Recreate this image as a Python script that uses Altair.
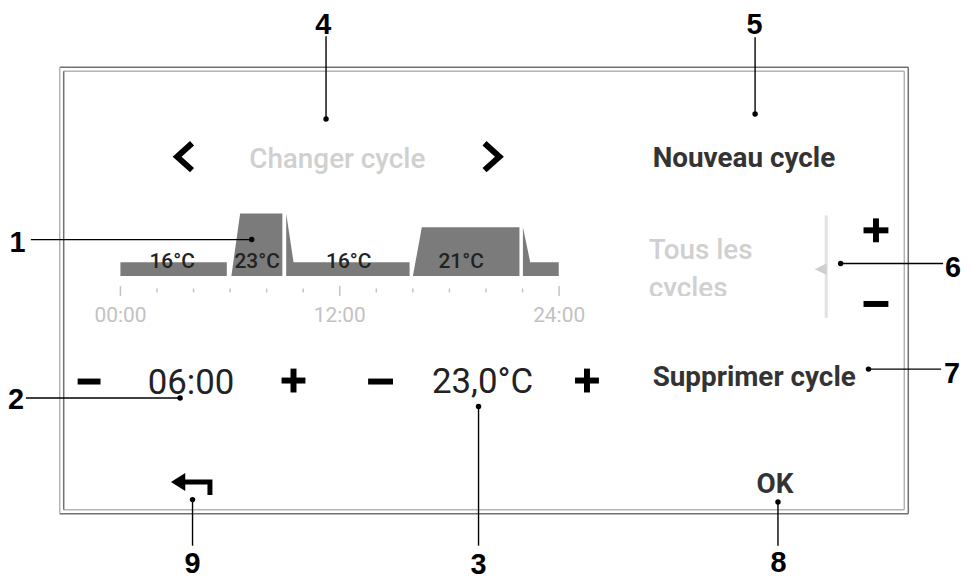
import altair as alt
import pandas as pd

# ---------------- data ----------------
# Temperature schedule: polygon vertices of each period (hour, °C)
seg_id = [1, 1, 2, 2, 2, 3, 3, 3, 4, 4, 4, 5, 5, 5]
seg_hour = [0, 5.82, 6.07, 6.55, 8.86, 9.07, 9.47, 15.82, 16.0, 16.49, 21.83, 22.02, 22.42, 23.98]
seg_temp = [16, 16, 14, 23, 23, 23, 16, 16, 14, 21, 21, 21, 16, 16]
base_temp = 14

block_labels = ["16°C", "23°C", "16°C", "21°C"]
block_hours = [2.83, 7.48, 12.49, 18.64]

tick_hours = list(range(0, 25, 2))
major_hours = [0, 12, 24]
hour_labels = ["00:00", "12:00", "24:00"]

# Callout numbers
callout_text = ["1", "2", "3", "4", "5", "6", "7", "8", "9"]
callout_x = [17.5, 16, 481, 325, 758.5, 958, 957, 782.5, 193.5]
callout_y = [252, 410, 575, 33, 33, 277, 383, 573, 574]
# Callout leader lines and end dots
lead_x1 = [31, 26, 481, 327.7, 759, 845, 873, 782, 193.5]
lead_x2 = [253, 181, 481, 327.7, 759, 948, 946, 782, 193.5]
lead_y1 = [239.3, 398.5, 407, 35, 36, 263.3, 369.5, 503, 500.7]
lead_y2 = [239.3, 398.5, 547, 118, 113, 263.3, 369.5, 547, 547]
dot_x = [253, 181, 481, 327.7, 759, 845, 873, 782, 193.5]
dot_y = [239.3, 398.5, 407, 118, 113, 263.3, 369.5, 503, 500.7]

# Screen texts
bold_text = ["Nouveau cycle", "Supprimer cycle"]
bold_x = [656, 656]
bold_y = [166, 386]
ok_text = ["OK"]
ok_x = [779]
ok_y = [494]
grey_text = ["Changer cycle", "Tous les", "cycles"]
grey_x = [339, 652, 652]
grey_y = [167, 259, 297]
grey_align = ["center", "left", "left"]
value_text = ["06:00", "23,0°C"]
value_x = [192, 485]
value_y = [395, 394]

# Frame (double border)
frame_x1 = [60, 913, 60, 60, 64, 909, 64, 64]
frame_x2 = [913, 913, 913, 60, 909, 909, 909, 64]
frame_y1 = [66, 66, 515, 66, 70, 70, 511, 70]
frame_y2 = [66, 515, 515, 515, 70, 511, 511, 511]
frame_col = ["#707070", "#707070", "#707070", "#b4b4b4", "#b4b4b4", "#b4b4b4", "#b4b4b4", "#707070"]

# Plus / minus buttons (thick strokes)
pm_x1 = [78, 283, 295, 370, 578, 590, 868, 880.5, 868]
pm_x2 = [101, 307, 295, 395, 602, 590, 893, 880.5, 893]
pm_y1 = [382, 381, 369, 382, 381, 369, 230, 218, 304]
pm_y2 = [382, 381, 393, 382, 381, 393, 230, 242, 304]

# Chevrons < >
chev_id = [1, 1, 1, 2, 2, 2]
chev_seq = [0, 1, 2, 0, 1, 2]
chev_x = [193, 178, 193, 487, 502, 487]
chev_y = [142.5, 156, 169.5, 142.5, 156, 169.5]

# Back arrow
arrow_seq = [0, 1, 2]
arrow_x = [183, 211, 211]
arrow_y = [483, 483, 496]

# ---------------- scales ----------------
W, H = 960, 571
X0, Y0 = 8, 8
px_x = alt.Scale(domain=[X0, X0 + W], nice=False, zero=False)
px_y = alt.Scale(domain=[Y0, Y0 + H], reverse=True, nice=False, zero=False)

H0_PX, PX_PER_H = 121.0, 18.375       # 00:00 position, pixels per hour
T0_PX, PX_PER_DEG = 276.0, 7.0        # baseline position, pixels per °C
hour_scale = alt.Scale(domain=[(X0 - H0_PX) / PX_PER_H, (X0 + W - H0_PX) / PX_PER_H], nice=False, zero=False)
temp_scale = alt.Scale(domain=[base_temp - (Y0 + H - T0_PX) / PX_PER_DEG, base_temp + (T0_PX - Y0) / PX_PER_DEG],
                       nice=False, zero=False)


def PX(f):
    return alt.X(f, type="quantitative", scale=px_x, axis=None)


def PY(f):
    return alt.Y(f, type="quantitative", scale=px_y, axis=None)


# ---------------- layers ----------------
frame = alt.Chart(pd.DataFrame(dict(x1=frame_x1, x2=frame_x2, y1=frame_y1, y2=frame_y2, c=frame_col))).mark_rule(
    strokeWidth=1.5).encode(x=PX("x1"), x2="x2", y=PY("y1"), y2="y2", color=alt.Color("c:N", scale=None))

sched_df = pd.DataFrame(dict(seg=seg_id, h=seg_hour, t=seg_temp, b=[base_temp] * len(seg_id)))
sched = alt.Chart(sched_df).mark_area(color="#7b7b7b", opacity=1).encode(
    x=alt.X("h:Q", scale=hour_scale, axis=None),
    y=alt.Y("t:Q", scale=temp_scale, axis=None),
    y2=alt.Y2("b:Q"),
    detail=alt.Detail("seg:N"),
)

tick_df = pd.DataFrame(dict(h=tick_hours,
                            y1=[286 if h in major_hours else 288.5 for h in tick_hours],
                            y2=[296 if h in major_hours else 292.5 for h in tick_hours]))
ticks = alt.Chart(tick_df).mark_rule(color="#c4c4c4", strokeWidth=1.5).encode(
    x=alt.X("h:Q", scale=hour_scale, axis=None), y=PY("y1"), y2="y2")

hl_df = pd.DataFrame(dict(h=major_hours, t=hour_labels, y=[322] * 3))
hlabels = alt.Chart(hl_df).mark_text(font="Roboto", fontSize=21, color="#c2c2c2", align="center",
                                     baseline="alphabetic").encode(
    x=alt.X("h:Q", scale=hour_scale, axis=None), y=PY("y"), text="t:N")

bl_df = pd.DataFrame(dict(h=block_hours, t=block_labels, y=[268] * 4))
blabels = alt.Chart(bl_df).mark_text(font="Roboto", fontSize=21, fontWeight=500, color="#222222", align="center",
                                     baseline="alphabetic").encode(
    x=alt.X("h:Q", scale=hour_scale, axis=None), y=PY("y"), text="t:N")

# right side slider bar + pointer
bar = alt.Chart(pd.DataFrame(dict(x=[830.5], y1=[215], y2=[318]))).mark_rule(color="#e2e2e2", strokeWidth=3).encode(
    x=PX("x"), y=PY("y1"), y2="y2")
pointer = alt.Chart(pd.DataFrame(dict(x=[825], y=[269]))).mark_point(
    shape="M 1 -1 L -1 0 L 1 1 Z", size=144, filled=True, color="#cfcfcf", opacity=1).encode(x=PX("x"), y=PY("y"))

grey_df = pd.DataFrame(dict(x=grey_x, y=grey_y, t=grey_text, a=grey_align))
grey = alt.Chart(grey_df).transform_filter(
    "datum.a == 'center'").mark_text(font="Roboto", fontSize=28, fontWeight=500, color="#d0d0d0", align="center",
                                     baseline="alphabetic").encode(x=PX("x"), y=PY("y"), text="t:N")
grey_l = alt.Chart(grey_df).transform_filter(
    "datum.a == 'left'").mark_text(font="Roboto", fontSize=28, fontWeight=500, color="#d0d0d0", align="left",
                                   baseline="alphabetic").encode(x=PX("x"), y=PY("y"), text="t:N")
# clip the bottom of "cycles"
clip = alt.Chart(pd.DataFrame(dict(x1=[648], x2=[740], y1=[296], y2=[310]))).mark_rect(color="white").encode(
    x=PX("x1"), x2="x2", y=PY("y1"), y2="y2")

bold = alt.Chart(pd.DataFrame(dict(x=bold_x, y=bold_y, t=bold_text))).mark_text(
    font="Roboto", fontSize=28, fontWeight="bold", color="#333333", align="left", baseline="alphabetic").encode(
    x=PX("x"), y=PY("y"), text="t:N")
ok = alt.Chart(pd.DataFrame(dict(x=ok_x, y=ok_y, t=ok_text))).mark_text(
    font="Roboto", fontSize=28, fontWeight="bold", color="#333333", align="center", baseline="alphabetic").encode(
    x=PX("x"), y=PY("y"), text="t:N")
values = alt.Chart(pd.DataFrame(dict(x=value_x, y=value_y, t=value_text))).mark_text(
    font="Roboto", fontSize=35, color="#222222", align="center", baseline="alphabetic").encode(
    x=PX("x"), y=PY("y"), text="t:N")

pm = alt.Chart(pd.DataFrame(dict(x1=pm_x1, x2=pm_x2, y1=pm_y1, y2=pm_y2))).mark_rule(
    color="black", strokeWidth=6).encode(x=PX("x1"), x2="x2", y=PY("y1"), y2="y2")

chev = alt.Chart(pd.DataFrame(dict(i=chev_id, s=chev_seq, x=chev_x, y=chev_y))).mark_line(
    color="black", strokeWidth=6, strokeJoin="miter", strokeCap="butt").encode(
    x=PX("x"), y=PY("y"), detail="i:N", order="s:O")

arrow_line = alt.Chart(pd.DataFrame(dict(s=arrow_seq, x=arrow_x, y=arrow_y))).mark_line(
    color="black", strokeWidth=5, strokeJoin="miter", strokeCap="butt").encode(x=PX("x"), y=PY("y"), order="s:O")
arrow_head = alt.Chart(pd.DataFrame(dict(x=[179], y=[483]))).mark_point(
    shape="M -0.8 0 L 0.8 -1 L 0.8 1 Z", size=324, filled=True, color="black", opacity=1).encode(
    x=PX("x"), y=PY("y"))

leads = alt.Chart(pd.DataFrame(dict(x1=lead_x1, x2=lead_x2, y1=lead_y1, y2=lead_y2))).mark_rule(
    color="black", strokeWidth=1.4).encode(x=PX("x1"), x2="x2", y=PY("y1"), y2="y2")
dots = alt.Chart(pd.DataFrame(dict(x=dot_x, y=dot_y))).mark_circle(color="black", size=30, opacity=1).encode(
    x=PX("x"), y=PY("y"))
nums = alt.Chart(pd.DataFrame(dict(x=callout_x, y=callout_y, t=callout_text))).mark_text(
    font="Liberation Sans", fontSize=29, fontWeight="bold", color="black", align="center",
    baseline="alphabetic").encode(x=PX("x"), y=PY("y"), text="t:N")

chart = alt.layer(
    frame, sched, ticks, hlabels, blabels, bar, pointer, grey, grey_l, clip, bold, ok, values, pm, chev,
    arrow_line, arrow_head, leads, dots, nums
).resolve_scale(x="independent", y="independent").properties(
    width=W, height=H, padding=0, autosize=alt.AutoSizeParams(type="none"),
    background="white"
).configure_view(stroke=None)

chart.save("out.html", embed_options={"renderer": "svg", "actions": False})
